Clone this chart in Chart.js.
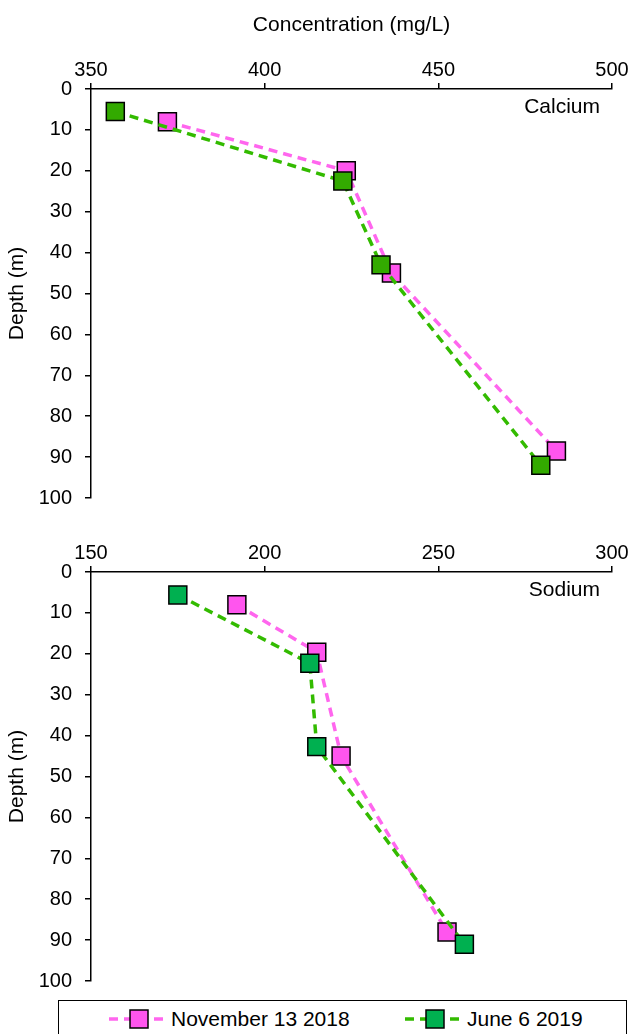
<!DOCTYPE html>
<html>
<head>
<meta charset="utf-8">
<script src="https://cdn.jsdelivr.net/npm/chart.js@4.4.1/dist/chart.umd.min.js"></script>
<style>
  html, body { margin: 0; padding: 0; background: #fff; }
  body { width: 630px; height: 1034px; position: relative; overflow: hidden;
         font-family: "Liberation Sans", Arial, sans-serif; }
  canvas { position: absolute; left: 0; }
  #c1 { top: 0; }
  #c2 { top: 490px; }
  .legend { position: absolute; left: 58px; top: 1000px; width: 569px; height: 40px; background: #fff;
            border: 1.5px solid #000; box-sizing: border-box; font-size: 21px; color: #000; }
  .item { position: absolute; top: 6px; display: flex; align-items: center; line-height: 24px; }
  .item svg { margin-right: 1px; }
</style>
</head>
<body>
<canvas id="c1" width="630" height="523"></canvas>
<canvas id="c2" width="630" height="516"></canvas>
<div class="legend">
  <div class="item" style="left:48px">
    <svg width="63" height="22"><line x1="2" y1="11" x2="61" y2="11" stroke="#ff66ee" stroke-width="3.5" stroke-dasharray="9,6"/><rect x="23" y="2" width="18" height="18" fill="#ff55ee" stroke="#000" stroke-width="1.5"/></svg>
    <span>November 13 2018</span>
  </div>
  <div class="item" style="left:344px">
    <svg width="63" height="22"><line x1="2" y1="11" x2="61" y2="11" stroke="#33bb00" stroke-width="3.5" stroke-dasharray="9,6"/><rect x="23" y="2" width="18" height="18" fill="#00b050" stroke="#000" stroke-width="1.5"/></svg>
    <span>June 6 2019</span>
  </div>
</div>
<script>
// depths (m) and concentrations (mg/L)
const caNovDepth = [8, 20, 45, 88.5];
const caNovConc = [372, 423.5, 436.5, 484];
const caJunDepth = [5.5, 22.5, 43, 92];
const caJunConc = [357, 422.5, 433.5, 479.5];

const naNovDepth = [8, 19.6, 45, 88];
const naNovConc = [192, 215, 222, 252.5];
const naJunDepth = [5.6, 22.3, 42.7, 91];
const naJunConc = [175, 213, 215, 257.5];

const caTicks = [350, 400, 450, 500];
const naTicks = [150, 200, 250, 300];
const depthTicks = [0, 10, 20, 30, 40, 50, 60, 70, 80, 90, 100];

const FONT = '"Liberation Sans", Arial, sans-serif';
const PINK_LINE = '#ff66ee';
const PINK_FILL = '#ff55ee';
const GREEN_LINE = '#33bb00';

function pts(xs, ys) {
  return xs.map((x, i) => ({ x: x, y: ys[i] }));
}

function series(label, xs, ys, lineColor, fill, order) {
  return {
    label: label,
    data: pts(xs, ys),
    showLine: true,
    borderColor: lineColor,
    borderWidth: 3.5,
    borderDash: [9, 6],
    pointStyle: 'rect',
    pointRadius: 12.7,
    pointHoverRadius: 12.7,
    pointBackgroundColor: fill,
    pointBorderColor: '#000',
    pointBorderWidth: 1.5,
    order: order,
  };
}

const cornerLabel = {
  id: 'cornerLabel',
  afterDraw(chart, args, opts) {
    const ctx = chart.ctx;
    const a = chart.chartArea;
    ctx.save();
    ctx.font = '21px ' + FONT;
    ctx.fillStyle = '#000';
    ctx.textAlign = 'right';
    ctx.textBaseline = 'middle';
    ctx.fillText(opts.text, a.right - 12, a.top + 18);
    ctx.restore();
  },
};

function makeChart(id, ticks, title, label, datasets, xHeight, bottomPad) {
  return new Chart(document.getElementById(id), {
    type: 'scatter',
    data: { datasets: datasets },
    plugins: [cornerLabel],
    options: {
      responsive: false,
      animation: false,
      layout: { padding: { left: 0, right: 18, top: 0, bottom: bottomPad } },
      plugins: {
        legend: { display: false },
        tooltip: { enabled: false },
        cornerLabel: { text: label },
      },
      scales: {
        x: {
          type: 'linear',
          position: 'top',
          min: ticks[0],
          max: ticks[ticks.length - 1],
          afterBuildTicks: (s) => { s.ticks = ticks.map((v) => ({ value: v })); },
          afterFit: (s) => { s.height = xHeight; },
          ticks: { color: '#000', font: { family: FONT, size: 20 }, padding: 1, maxRotation: 0 },
          grid: { drawOnChartArea: false, tickLength: 6, color: '#000', lineWidth: 1.5 },
          border: { color: '#000', width: 1.5 },
          title: {
            display: !!title,
            text: title,
            color: '#000',
            font: { family: FONT, size: 21 },
            padding: { top: 13, bottom: 0 },
          },
        },
        y: {
          type: 'linear',
          reverse: true,
          min: 0,
          max: 100,
          afterBuildTicks: (s) => { s.ticks = depthTicks.map((v) => ({ value: v })); },
          afterFit: (s) => { s.width = 91; },
          ticks: { color: '#000', font: { family: FONT, size: 20 }, padding: 13 },
          grid: { drawOnChartArea: false, tickLength: 6, color: '#000', lineWidth: 1.5 },
          border: { color: '#000', width: 1.5 },
          title: {
            display: true,
            text: 'Depth (m)',
            color: '#000',
            font: { family: FONT, size: 21 },
            padding: { top: 5, bottom: 0 },
          },
        },
      },
    },
  });
}

makeChart('c1', caTicks, 'Concentration (mg/L)', 'Calcium', [
  series('November 13 2018', caNovConc, caNovDepth, PINK_LINE, PINK_FILL, 1),
  series('June 6 2019', caJunConc, caJunDepth, GREEN_LINE, '#33aa00', 0),
], 89, 0);

makeChart('c2', naTicks, '', 'Sodium', [
  series('November 13 2018', naNovConc, naNovDepth, PINK_LINE, PINK_FILL, 1),
  series('June 6 2019', naJunConc, naJunDepth, GREEN_LINE, '#00b050', 0),
], 82, 10);
</script>
</body>
</html>
